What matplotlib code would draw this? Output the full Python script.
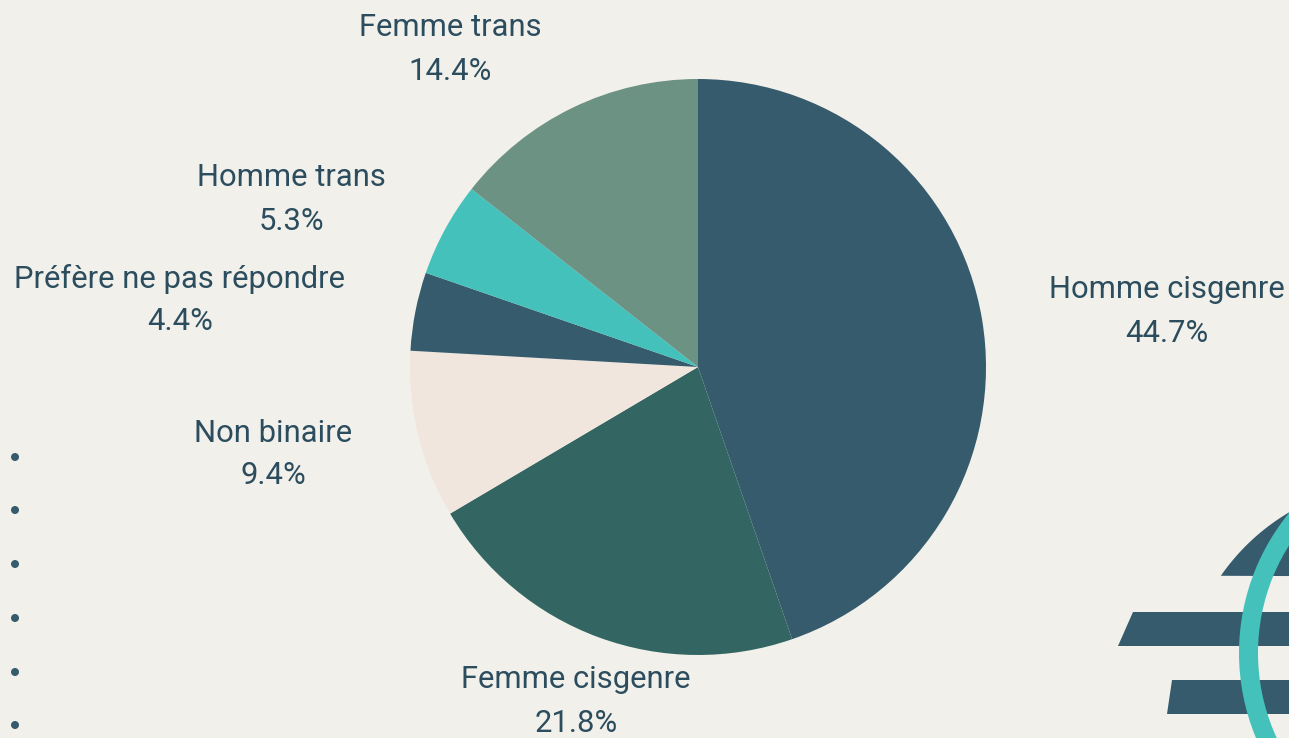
import matplotlib
matplotlib.use("Agg")
import matplotlib.pyplot as plt
from matplotlib.patches import Circle, Polygon, Arc
import numpy as np

# Daten
categories = ["Homme cisgenre", "Femme cisgenre", "Non binaire",
              "Préfère ne pas répondre", "Homme trans", "Femme trans"]
shares = [44.7, 21.8, 9.4, 4.4, 5.3, 14.4]
colors = ["#365b6d", "#336663", "#f0e6de", "#365b6d", "#44c1bb", "#6b9283"]

# Label-Positionen (Pixel: x-Mitte, y erste Zeile)
label_pos = [(1167, 290), (576, 680), (273, 433), (180, 279), (291, 178), (450, 28)]
line_gap = 43

W, H = 1289, 738
bg = "#f2f0eb"
txt_col = "#2b4d5e"

fig = plt.figure(figsize=(W / 100, H / 100), dpi=100)
fig.patch.set_facecolor(bg)

# Hintergrund-Achse in Pixelkoordinaten
bgax = fig.add_axes([0, 0, 1, 1])
bgax.set_xlim(0, W)
bgax.set_ylim(H, 0)
bgax.axis("off")

# Punkte links
for y in [457, 510, 564, 618, 672, 725]:
    bgax.add_patch(Circle((15, y), 4, color="#365b6d", lw=0))

# Deko unten rechts
dark = "#365b6d"
cx, cy, r = 1400, 700, 218
t = np.linspace(0, 2 * np.pi, 400)
xs = cx + r * np.cos(t)
ys = cy + r * np.sin(t)
mask = ys <= 578
seg = np.column_stack([xs[mask], ys[mask]])
seg = seg[np.argsort(seg[:, 0])]
bgax.add_patch(Polygon(seg, closed=True, color=dark, lw=0))
bgax.add_patch(Polygon([(1133, 612), (1300, 612), (1300, 646), (1118, 646)], color=dark, lw=0))
bgax.add_patch(Polygon([(1172, 680), (1300, 680), (1300, 714), (1167, 714)], color=dark, lw=0))
bgax.add_patch(Arc((1460, 653), 2 * 211.5, 2 * 211.5, theta1=0, theta2=360,
                   color="#44c1bb", lw=19 * 0.72))

# Kreisdiagramm
ax = fig.add_axes([410 / W, 83 / H, 576 / W, 576 / H])
ax.pie(shares, colors=colors, startangle=90, counterclock=False,
       wedgeprops=dict(linewidth=0))
ax.set_xlim(-1, 1)
ax.set_ylim(-1, 1)
ax.set_aspect("equal")
ax.axis("off")

for name, val, (x, y) in zip(categories, shares, label_pos):
    bgax.text(x, y, name, ha="center", va="center",
              fontsize=22.3, color=txt_col, family="Roboto")
    bgax.text(x, y + line_gap, f"{val:.1f}%", ha="center", va="center",
              fontsize=22.3, color=txt_col, family="Roboto")

fig.savefig("out.png", dpi=100, facecolor=bg)
